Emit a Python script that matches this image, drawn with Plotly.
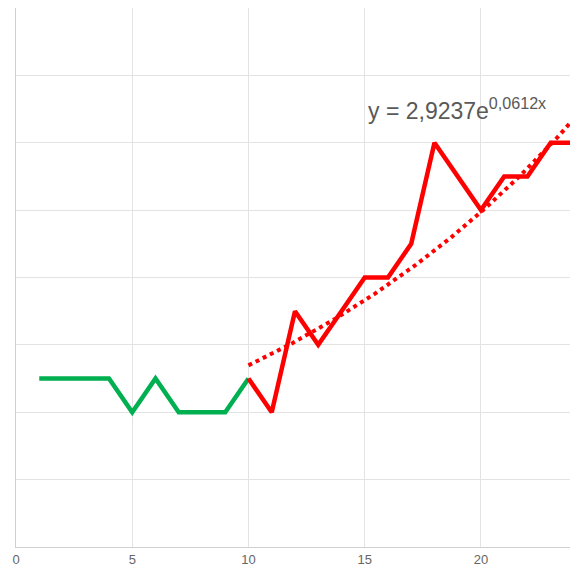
import numpy as np
import plotly.graph_objects as go

green_x = [1, 2, 3, 4, 5, 6, 7, 8, 9, 10]
green_y = [5, 5, 5, 5, 4, 5, 4, 4, 4, 5]
red_x = [10, 11, 12, 13, 14, 15, 16, 17, 18, 19, 20, 21, 22, 23, 24]
red_y = [5, 4, 7, 6, 7, 8, 8, 9, 12, 11, 10, 11, 11, 12, 12]
trend_a = 2.9237
trend_b = 0.0612
x_ticks = [0, 5, 10, 15, 20]

tx = np.linspace(10, 25, 200)
ty = trend_a * np.exp(trend_b * tx)

fig = go.Figure()
fig.add_trace(go.Scatter(x=tx, y=ty, mode="lines",
                         line=dict(color="#ff0000", width=4, dash="dot"),
                         hoverinfo="skip"))
fig.add_trace(go.Scatter(x=green_x, y=green_y, mode="lines",
                         line=dict(color="#00b050", width=4.5)))
fig.add_trace(go.Scatter(x=red_x, y=red_y, mode="lines",
                         line=dict(color="#ff0000", width=4.5)))

fig.add_annotation(x=15.05, y=13.0, xref="x", yref="y", xanchor="left", yanchor="middle",
                   text="y = 2,9237e<sup>0,0612x</sup>", showarrow=False,
                   font=dict(family="Liberation Sans, Arial", size=23, color="#595959"))

fig.update_layout(
    width=570, height=569,
    margin=dict(l=16, r=0, t=8, b=22),
    paper_bgcolor="white", plot_bgcolor="white",
    showlegend=False,
    font=dict(family="Liberation Sans, Arial", size=13, color="#666666"),
)
fig.update_xaxes(range=[0, 23.83], tickvals=x_ticks, showgrid=True, gridcolor="#e3e3e3",
                 gridwidth=1, zeroline=False, showline=True, linecolor="#d0d0d0",
                 linewidth=1, ticks="", tickfont=dict(size=13, color="#666666"))
fig.update_yaxes(range=[0, 16], dtick=2, showgrid=True, gridcolor="#e3e3e3", gridwidth=1,
                 zeroline=False, showline=True, linecolor="#d0d0d0", linewidth=1,
                 showticklabels=False, ticks="", mirror=False)

fig.write_html("out.html", config={"displayModeBar": False},
               post_script="document.body.style.margin='0';document.documentElement.style.overflow='hidden';")
